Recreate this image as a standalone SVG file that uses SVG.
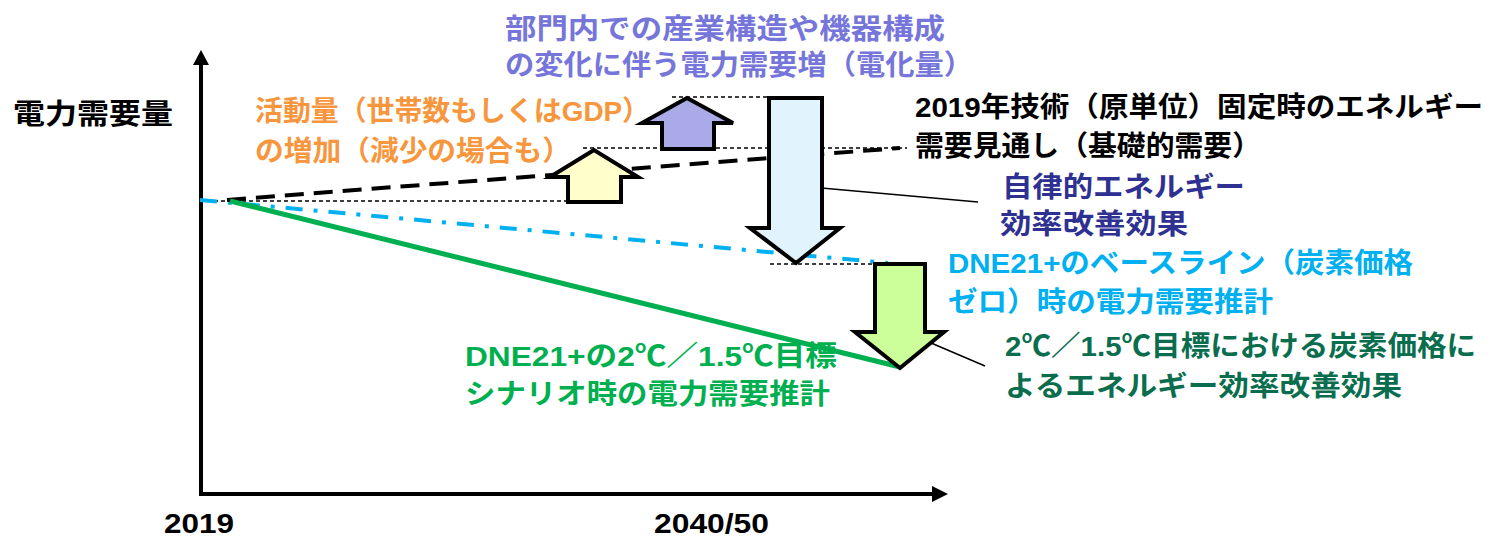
<svg xmlns="http://www.w3.org/2000/svg" width="1511" height="538" viewBox="0 0 1511 538">
<style>
text{font-family:"Liberation Sans","Noto Sans CJK JP",sans-serif;font-weight:bold;font-size:28px}
.blk{fill:#000}
.org{fill:#F7963D}
.pur{fill:#7676DA}
.nav{fill:#2E3192}
.cyn{fill:#00B0F0}
.dgr{fill:#0A6E4E}
.grn{fill:#00B050}
.dot{stroke:#000;stroke-width:1.5;stroke-dasharray:4 3;fill:none}
.arr{stroke:#000;stroke-width:4;stroke-linejoin:miter}
.lead{stroke:#000;stroke-width:1.5;fill:none}
</style>
<rect width="1511" height="538" fill="#fff"/>
<g id="axes">
<line x1="201" y1="494" x2="201" y2="62" stroke="#000" stroke-width="4"/>
<polygon points="201,50 193,65 209,65" fill="#000"/>
<line x1="199" y1="494" x2="934" y2="494" stroke="#000" stroke-width="4"/>
<polygon points="948,494 932,486 932,502" fill="#000"/>
<text x="13" y="124" class="blk" textLength="160" lengthAdjust="spacingAndGlyphs">電力需要量</text>
<text x="164" y="533" class="blk" font-size="27" textLength="70" lengthAdjust="spacingAndGlyphs">2019</text>
<text x="654" y="533" class="blk" font-size="27" textLength="115" lengthAdjust="spacingAndGlyphs">2040/50</text>
</g>
<g id="connectors">
<line class="dot" x1="200" y1="201" x2="622" y2="201"/>
<line class="dot" x1="583" y1="148" x2="907" y2="148"/>
<line class="dot" x1="672" y1="97" x2="823" y2="97"/>
<line class="dot" x1="770" y1="264" x2="875" y2="264"/>
<line x1="200" y1="200" x2="888" y2="263" stroke="#00B0F0" stroke-width="4" stroke-dasharray="17 11 4 11"/>
<line x1="227" y1="200" x2="900" y2="148" stroke="#000" stroke-width="4" stroke-dasharray="19 10"/>
<line x1="230" y1="201" x2="900" y2="367" stroke="#00B050" stroke-width="5"/>
<line class="lead" x1="799" y1="186" x2="978" y2="202"/>
<line class="lead" x1="903" y1="331" x2="985" y2="366"/>
</g>
<g id="arrow-activity">
<polygon class="arr" fill="#FFFFCC" points="594,150 550,177 568,177 568,202 621,202 621,177 638,177"/>
</g>
<g id="arrow-electrification">
<polygon class="arr" fill="#AAAAE8" points="687,98 642,123 662,123 662,149 714,149 714,123 733,123"/>
</g>
<g id="arrow-autonomous">
<polygon class="arr" fill="#E1F3FD" points="769,98 822,98 822,228 840,228 796,263 750,228 769,228"/>
</g>
<g id="arrow-carbonprice">
<polygon class="arr" fill="#CCFF99" points="875,264 925,264 925,332 944,332 900,368 855,332 875,332"/>
</g>
<g id="label-activity">
<text x="255" y="121" class="org" textLength="395" lengthAdjust="spacingAndGlyphs">活動量（世帯数もしくはGDP）</text>
<text x="255" y="161" class="org" textLength="316" lengthAdjust="spacingAndGlyphs">の増加（減少の場合も）</text>
</g>
<g id="label-electrification">
<text x="505" y="39" class="pur" font-size="30" textLength="440" lengthAdjust="spacingAndGlyphs">部門内での産業構造や機器構成</text>
<text x="505" y="75" class="pur" font-size="30" textLength="468" lengthAdjust="spacingAndGlyphs">の変化に伴う電力需要増（電化量）</text>
</g>
<g id="label-basic">
<text x="915" y="117" class="blk" textLength="568" lengthAdjust="spacingAndGlyphs">2019年技術（原単位）固定時のエネルギー</text>
<text x="915" y="156" class="blk" textLength="346" lengthAdjust="spacingAndGlyphs">需要見通し（基礎的需要）</text>
</g>
<g id="label-autonomous">
<text x="1002" y="197" class="nav" textLength="243" lengthAdjust="spacingAndGlyphs">自律的エネルギー</text>
<text x="1000" y="234" class="nav" textLength="188" lengthAdjust="spacingAndGlyphs">効率改善効果</text>
</g>
<g id="label-baseline">
<text x="948" y="273" class="cyn" textLength="465" lengthAdjust="spacingAndGlyphs">DNE21+のベースライン（炭素価格</text>
<text x="948" y="312" class="cyn" textLength="325" lengthAdjust="spacingAndGlyphs">ゼロ）時の電力需要推計</text>
</g>
<g id="label-carbonprice">
<text x="1005" y="356" class="dgr" textLength="471" lengthAdjust="spacingAndGlyphs">2℃／1.5℃目標における炭素価格に</text>
<text x="1005" y="396" class="dgr" textLength="397" lengthAdjust="spacingAndGlyphs">よるエネルギー効率改善効果</text>
</g>
<g id="label-2c">
<text x="465" y="366" class="grn" textLength="372" lengthAdjust="spacingAndGlyphs">DNE21+の2℃／1.5℃目標</text>
<text x="465" y="404" class="grn" textLength="365" lengthAdjust="spacingAndGlyphs">シナリオ時の電力需要推計</text>
</g>
</svg>
